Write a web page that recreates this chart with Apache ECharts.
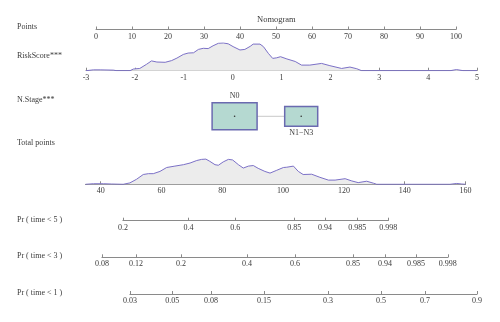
<!DOCTYPE html>
<html>
<head>
<meta charset="utf-8">
<script src="https://cdn.jsdelivr.net/npm/echarts@6/dist/echarts.min.js"></script>
<style>html,body{margin:0;padding:0;background:#fff}#c{width:500px;height:322px}</style>
</head>
<body>
<div id="c"></div>
<script>
// ---------- DATA ----------
const rowLabels = ['Points', 'RiskScore***', 'N.Stage***', 'Total points', 'Pr ( time < 5 )', 'Pr ( time < 3 )', 'Pr ( time < 1 )'];
const pointsRange = [0, 100];
const riskRange = [-3, 5];
const totalRange = [35, 160];
const totalTicks = [40, 60, 80, 100, 120, 140, 160];

// RiskScore density: [riskScore, relative density]
const riskDensity = [
  [-3.00,0],[-2.85,0.03],[-2.71,0.03],[-2.44,0.02],[-2.37,0],[-2.10,0],[-2.03,0.06],[-1.90,0.08],
  [-1.76,0.23],[-1.66,0.35],[-1.55,0.31],[-1.38,0.30],[-1.25,0.36],[-1.14,0.45],[-1.01,0.58],
  [-0.91,0.63],[-0.80,0.64],[-0.70,0.76],[-0.60,0.80],[-0.50,0.79],[-0.40,0.89],[-0.29,0.98],
  [-0.19,0.99],[-0.09,0.96],[0.01,0.86],[0.15,0.74],[0.25,0.76],[0.36,0.87],[0.42,0.95],
  [0.56,0.95],[0.63,0.86],[0.73,0.62],[0.82,0.44],[0.90,0.46],[0.98,0.50],[1.11,0.42],
  [1.28,0.33],[1.41,0.20],[1.58,0.20],[1.82,0.26],[1.99,0.18],[2.23,0.08],[2.40,0.13],
  [2.54,0.07],[2.64,0],[4.45,0],[4.58,0.04],[4.72,0],[5.00,0]
];

// Total points density: [total points, relative density]
const totalDensity = [
  [35,0],[37.6,0.02],[40.9,0.02],[43.6,0.01],[47.4,0],[49.6,0.05],[51.8,0.18],[54.0,0.35],
  [55.7,0.38],[57.3,0.38],[59.5,0.46],[61.7,0.60],[64.4,0.65],[67.2,0.70],[69.4,0.76],
  [71.6,0.85],[73.2,0.89],[74.6,0.90],[75.9,0.82],[77.6,0.70],[78.7,0.68],[80.3,0.80],
  [82.0,0.89],[83.4,0.87],[85.3,0.70],[86.9,0.58],[88.6,0.65],[90.2,0.67],[91.8,0.57],
  [94.0,0.46],[95.7,0.40],[97.9,0.50],[100.1,0.60],[101.2,0.61],[103.4,0.65],[105.0,0.46],
  [106.6,0.35],[109.4,0.36],[112.1,0.25],[114.9,0.15],[117.1,0.15],[120.4,0.20],[122.6,0.12],
  [124.7,0.06],[127.5,0.11],[129.7,0.04],[130.8,0],[154.9,0],[157.1,0.03],[158.8,0.01],[160,0]
];

// N.Stage: categories, points position, share of patients
const nStageLevels = ['N0', 'N1−N3'];
const nStagePoints = [38.5, 57.0];
const nStageShare = [0.65, 0.35];

// Probability scales: tick labels and their total-points positions
const pr5Labels = ['0.2','0.4','0.6','0.85','0.94','0.985','0.998'];
const pr5Total  = [47.3, 68.9, 84.3, 103.7, 113.8, 124.4, 134.6];
const pr3Labels = ['0.08','0.12','0.2','0.4','0.6','0.85','0.94','0.985','0.998'];
const pr3Total  = [40.4, 51.6, 66.4, 88.1, 103.9, 123.0, 133.5, 143.7, 154.2];
const pr1Labels = ['0.03','0.05','0.08','0.15','0.3','0.5','0.7','0.9'];
const pr1Total  = [49.6, 63.5, 76.3, 93.7, 114.8, 132.2, 146.7, 163.8];

// ---------- LAYOUT ----------
const FONT = '"Liberation Serif", "DejaVu Serif", serif';
const TXT = '#3a3a3a';
const AXC = '#8a8a8a';
const tpToPx = tp => 100.7 + (tp - 40) * 3.04;   // total-points pixel scale

const chart = echarts.init(document.getElementById('c'), null, {renderer: 'canvas'});

function xAx(gi, min, max, extra) {
  return Object.assign({
    gridIndex: gi, type: 'value', min: min, max: max, position: 'bottom',
    axisLine: {show: true, lineStyle: {color: AXC, width: 1}},
    axisTick: {show: true, inside: true, length: 3, lineStyle: {color: AXC}},
    axisLabel: {show: true, margin: 3, fontFamily: FONT, fontSize: 8, color: TXT, hideOverlap: false, showMinLabel: true, showMaxLabel: true},
    splitLine: {show: false}
  }, extra || {});
}
function yAx(gi, max) {
  return {gridIndex: gi, type: 'value', min: 0, max: max, show: false};
}
function customAxis(gi, positions, labels) {
  const map = {};
  positions.forEach((p, i) => { map[p] = labels[i]; });
  return xAx(gi, positions[0], positions[positions.length - 1], {
    axisTick: {show: true, inside: true, length: 3, lineStyle: {color: AXC}, customValues: positions},
    axisLabel: {show: true, margin: 3, fontFamily: FONT, fontSize: 8, color: TXT, customValues: positions,
      hideOverlap: false, formatter: v => (map[v] !== undefined ? map[v] : '')}
  });
}
function probGrid(positions, lineY) {
  const l = tpToPx(positions[0]), r = tpToPx(positions[positions.length - 1]);
  return {left: l, width: r - l, top: lineY - 10, height: 10};
}

const grids = [
  {left: 96, width: 360, top: 19.5, height: 10},          // 0 points
  {left: 86, width: 391, top: 42.7, height: 28},          // 1 risk score
  {left: 96, width: 360, top: 96.3, height: 40},          // 2 N.Stage
  {left: tpToPx(35), width: tpToPx(160) - tpToPx(35), top: 156.3, height: 28}, // 3 total
  probGrid(pr5Total, 220.7),                               // 4
  probGrid(pr3Total, 257.3),                               // 5
  probGrid(pr1Total, 294)                                  // 6
];

const xAxes = [
  xAx(0, pointsRange[0], pointsRange[1], {interval: 10}),
  xAx(1, riskRange[0], riskRange[1], {interval: 1}),
  xAx(2, pointsRange[0], pointsRange[1], {show: false}),
  xAx(3, totalRange[0], totalRange[1], {
    axisTick: {show: true, inside: true, length: 3, lineStyle: {color: AXC}, customValues: totalTicks},
    axisLabel: {show: true, margin: 3, fontFamily: FONT, fontSize: 8, color: TXT, customValues: totalTicks}
  }),
  customAxis(4, pr5Total, pr5Labels),
  customAxis(5, pr3Total, pr3Labels),
  customAxis(6, pr1Total, pr1Labels)
];
const yAxes = [yAx(0,1), yAx(1,1), yAx(2,1), yAx(3,1), yAx(4,1), yAx(5,1), yAx(6,1)];

const labelY = [27.5, 56.7, 101, 143.5, 220.7, 257.3, 294];
const graphics = rowLabels.map((t, i) => ({
  type: 'text', left: 17, top: labelY[i] - 5,
  style: {text: t, font: '8px ' + FONT, fill: TXT}
}));
graphics.push({type: 'text', left: 257, top: 15,
  style: {text: 'Nomogram', font: '8.5px ' + FONT, fill: TXT}});

const densityStyle = {
  type: 'line', showSymbol: false, symbol: 'none', smooth: false,
  lineStyle: {color: '#7b70c6', width: 1},
  areaStyle: {color: '#ececec', opacity: 1},
  silent: true
};

const nStageData = nStageLevels.map((lv, i) => [nStagePoints[i], 0.5, nStageShare[i], lv, i]);

const option = {
  animation: false,
  backgroundColor: '#fff',
  grid: grids,
  xAxis: xAxes,
  yAxis: yAxes,
  graphic: graphics,
  series: [
    Object.assign({}, densityStyle, {xAxisIndex: 1, yAxisIndex: 1, data: riskDensity}),
    Object.assign({}, densityStyle, {xAxisIndex: 3, yAxisIndex: 3, data: totalDensity}),
    {
      type: 'line', xAxisIndex: 2, yAxisIndex: 2, showSymbol: false, symbol: 'none',
      lineStyle: {color: '#c8c8c8', width: 1}, silent: true, z: 1,
      data: nStagePoints.map(p => [p, 0.5])
    },
    {
      type: 'custom', xAxisIndex: 2, yAxisIndex: 2, z: 3, silent: true,
      data: nStageData,
      renderItem: function (params, api) {
        const c = api.coord([api.value(0), api.value(1)]);
        const s = Math.sqrt(api.value(2));
        const w = 55.8 * s, h = 33.5 * s;
        const idx = api.value(4);
        const ty = idx % 2 === 0 ? c[1] - h / 2 - 6.5 : c[1] + h / 2 + 6.5;
        return {
          type: 'group',
          children: [
            {type: 'rect', shape: {x: c[0] - w / 2, y: c[1] - h / 2, width: w, height: h},
              style: {fill: '#b5d9d1', stroke: '#6a6ab0', lineWidth: 1.5}},
            {type: 'circle', shape: {cx: c[0], cy: c[1], r: 0.8}, style: {fill: '#333'}},
            {type: 'text', style: {text: nStageLevels[idx], x: c[0], y: ty,
              align: 'center', verticalAlign: 'middle', font: '8px ' + FONT, fill: TXT}}
          ]
        };
      }
    }
  ]
};
chart.setOption(option);
</script>
</body>
</html>
